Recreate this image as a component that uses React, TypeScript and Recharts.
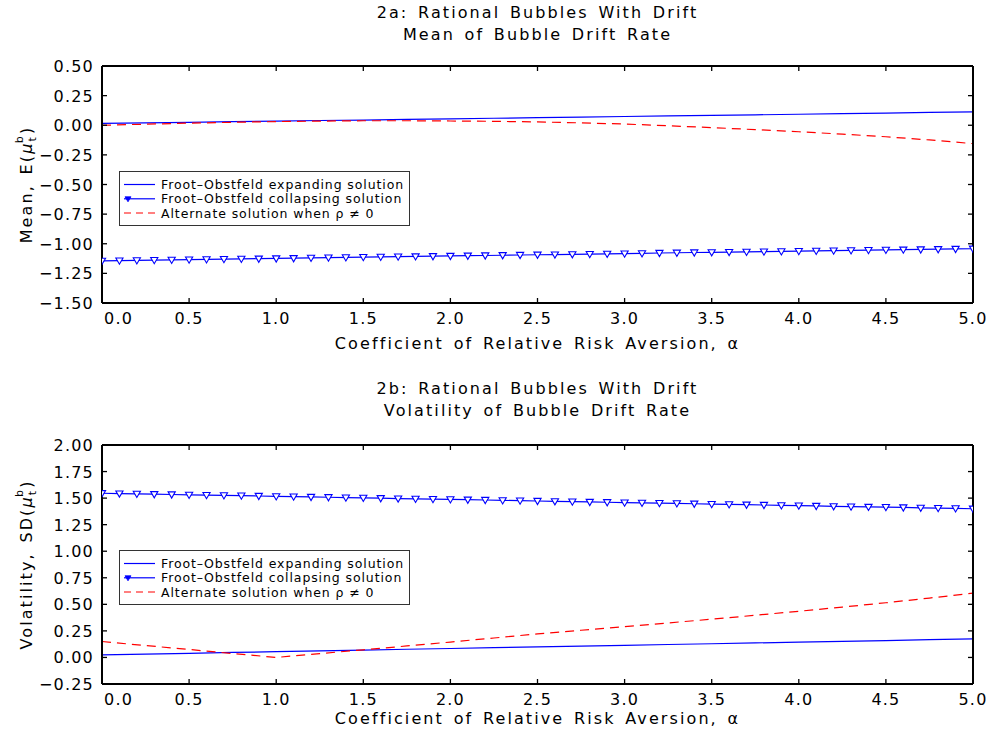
import React from 'react';
import { LineChart, Line, XAxis, YAxis, Legend, Label } from 'recharts';

// ---------- data ----------
const ALPHA = [
  0, 0.1, 0.2, 0.3, 0.4, 0.5, 0.6, 0.7, 0.8, 0.9,
  1.0, 1.1, 1.2, 1.3, 1.4, 1.5, 1.6, 1.7, 1.8, 1.9,
  2.0, 2.1, 2.2, 2.3, 2.4, 2.5, 2.6, 2.7, 2.8, 2.9,
  3.0, 3.1, 3.2, 3.3, 3.4, 3.5, 3.6, 3.7, 3.8, 3.9,
  4.0, 4.1, 4.2, 4.3, 4.4, 4.5, 4.6, 4.7, 4.8, 4.9, 5.0,
];
const ALPHA_COARSE = [
  0, 0.25, 0.5, 0.75, 1.0, 1.25, 1.5, 1.75, 2.0, 2.25, 2.5,
  2.75, 3.0, 3.25, 3.5, 3.75, 4.0, 4.25, 4.5, 4.75, 5.0,
];

// 2a: mean of bubble drift rate
const MEAN_COLLAPSING = [
  -1.144, -1.142, -1.140, -1.138, -1.136, -1.134, -1.132, -1.130, -1.128, -1.126,
  -1.124, -1.122, -1.119, -1.117, -1.115, -1.113, -1.111, -1.109, -1.107, -1.105,
  -1.103, -1.101, -1.099, -1.097, -1.095, -1.093, -1.091, -1.089, -1.087, -1.085,
  -1.083, -1.081, -1.078, -1.076, -1.074, -1.072, -1.070, -1.068, -1.066, -1.064,
  -1.062, -1.060, -1.058, -1.056, -1.054, -1.052, -1.050, -1.048, -1.046, -1.044, -1.042,
];
const MEAN_EXPANDING = [
  0.015, 0.020, 0.025, 0.030, 0.035, 0.040, 0.044, 0.049, 0.054, 0.059, 0.064,
  0.069, 0.074, 0.079, 0.084, 0.088, 0.093, 0.098, 0.103, 0.108, 0.113,
];
const MEAN_ALTERNATE = [
  0.000, 0.009, 0.018, 0.025, 0.031, 0.035, 0.038, 0.038, 0.036, 0.033, 0.028,
  0.020, 0.010, -0.004, -0.020, -0.037, -0.055, -0.075, -0.097, -0.124, -0.155,
];

// 2b: volatility of bubble drift rate
const VOL_COLLAPSING = [
  1.546, 1.543, 1.540, 1.537, 1.534, 1.531, 1.528, 1.526, 1.523, 1.520,
  1.517, 1.514, 1.511, 1.508, 1.505, 1.502, 1.499, 1.496, 1.493, 1.490,
  1.488, 1.485, 1.482, 1.479, 1.476, 1.473, 1.470, 1.467, 1.464, 1.461,
  1.458, 1.455, 1.453, 1.450, 1.447, 1.444, 1.441, 1.438, 1.435, 1.432,
  1.429, 1.426, 1.423, 1.420, 1.417, 1.415, 1.412, 1.409, 1.406, 1.403, 1.400,
];
const VOL_EXPANDING = [
  0.024, 0.032, 0.039, 0.047, 0.054, 0.062, 0.069, 0.077, 0.084, 0.092, 0.099,
  0.107, 0.114, 0.122, 0.129, 0.137, 0.144, 0.152, 0.159, 0.167, 0.174,
];
const VOL_ALTERNATE = [
  0.150, 0.112, 0.075, 0.037, 0.000, 0.036, 0.072, 0.108, 0.145, 0.183, 0.222,
  0.256, 0.290, 0.325, 0.360, 0.397, 0.435, 0.474, 0.515, 0.559, 0.605,
];

const X_TICKS = [0, 0.5, 1.0, 1.5, 2.0, 2.5, 3.0, 3.5, 4.0, 4.5, 5.0];
const MEAN_TICKS = [0.5, 0.25, 0, -0.25, -0.5, -0.75, -1.0, -1.25, -1.5];
const VOL_TICKS = [2.0, 1.75, 1.5, 1.25, 1.0, 0.75, 0.5, 0.25, 0, -0.25];

const LEGEND_LABELS = [
  'Froot\u2013Obstfeld expanding solution',
  'Froot\u2013Obstfeld collapsing solution',
  'Alternate solution when \u03C1 \u2260 0',
];
const X_TITLE = 'Coefficient of Relative Risk Aversion, \u03B1';

// ---------- styling ----------
const FONT = "'DejaVu Sans', 'Liberation Sans', sans-serif";
const BLUE = '#0000ff';
const RED = '#ff0000';
const W = 989;
const H = 370;
const TEXT_LS = 2.1;
const TEXT_WS = 2.5;

const rows = (xs: number[], ys: number[]) => xs.map((a, i) => ({ a, v: ys[i] }));
const fmt = (v: number, d: number) => v.toFixed(d).replace('-', '\u2212');

const XTickBottom = (props: any) => {
  const { x, y, payload } = props;
  const v = payload.value as number;
  const first = v === X_TICKS[0];
  return (
    <g>
      <line x1={x} x2={x} y1={y} y2={y - 5} stroke="#000" strokeWidth={1.3} />
      <text
        x={first ? x + 2 : x}
        y={y + 21}
        textAnchor={first ? 'start' : 'middle'}
        fontFamily={FONT}
        fontSize={16}
        letterSpacing={1.2}
        fill="#000"
      >
        {fmt(v, 1)}
      </text>
    </g>
  );
};

const XTickTop = (props: any) => {
  const { x, y } = props;
  return <line x1={x} x2={x} y1={y} y2={y + 5} stroke="#000" strokeWidth={1.3} />;
};

const YTickLeft = (props: any) => {
  const { x, y, payload } = props;
  const v = payload.value as number;
  return (
    <g>
      <line x1={x} x2={x + 5} y1={y} y2={y} stroke="#000" strokeWidth={1.3} />
      <text
        x={x - 8}
        y={y + 6}
        textAnchor="end"
        fontFamily={FONT}
        fontSize={16}
        letterSpacing={1.2}
        fill="#000"
      >
        {fmt(v, 2)}
      </text>
    </g>
  );
};

const YTickRight = (props: any) => {
  const { x, y } = props;
  return <line x1={x} x2={x - 5} y1={y} y2={y} stroke="#000" strokeWidth={1.3} />;
};

const TriDot = (p: any) => {
  const { cx, cy, index } = p;
  if (cx == null || cy == null) return <g key={index} />;
  return (
    <path
      key={index}
      d={`M${cx - 3.6},${cy - 2.6} L${cx + 3.6},${cy - 2.6} L${cx},${cy + 3.6} Z`}
      fill="#ffffff"
      stroke={BLUE}
      strokeWidth={1.1}
    />
  );
};

const LegendBox = () => {
  const rowsY = [13.5, 27.8, 42];
  return (
    <svg width={292} height={56} style={{ display: 'block', overflow: 'visible' }}>
      <rect x={0.5} y={0.5} width={290} height={54} fill="#ffffff" stroke="#333" strokeWidth={1} />
      <line x1={5} x2={36} y1={rowsY[0]} y2={rowsY[0]} stroke={BLUE} strokeWidth={1.2} />
      <line x1={5} x2={36} y1={rowsY[1]} y2={rowsY[1]} stroke={BLUE} strokeWidth={1.2} />
      <path
        d={`M${6},${rowsY[1] - 2} L${12},${rowsY[1] - 2} L${9},${rowsY[1] + 3} Z`}
        fill={BLUE}
        stroke={BLUE}
        strokeWidth={0.8}
      />
      <line
        x1={5}
        x2={36}
        y1={rowsY[2]}
        y2={rowsY[2]}
        stroke={RED}
        strokeWidth={1.2}
        strokeDasharray="7 5"
      />
      {LEGEND_LABELS.map((t, i) => (
        <text
          key={t}
          x={42}
          y={rowsY[i] + 4.5}
          fontFamily={FONT}
          fontSize={12.5}
          letterSpacing={0.9}
          fill="#000"
        >
          {t}
        </text>
      ))}
    </svg>
  );
};

type PanelProps = {
  collapsing: number[];
  expanding: number[];
  alternate: number[];
  yTicks: number[];
  title1: string;
  title2: string;
  titleY: [number, number];
  yPrefix: string;
  marginTop: number;
  marginBottom: number;
  xTitleOffset: number;
  legendTop: number;
};

const Panel = (p: PanelProps) => {
  const yDomain = [p.yTicks[p.yTicks.length - 1], p.yTicks[0]];
  return (
    <LineChart
      width={W}
      height={H}
      margin={{ top: p.marginTop - 1, right: 15, bottom: p.marginBottom - 1, left: 0 }}
    >
      <XAxis
        dataKey="a"
        type="number"
        domain={[0, 5]}
        ticks={X_TICKS}
        allowDataOverflow
        height={1}
        tickSize={0}
        tickMargin={0}
        tickLine={false}
        interval={0}
        axisLine={{ stroke: '#000', strokeWidth: 2 }}
        tick={<XTickBottom />}
      >
        <Label
          content={(lp: any) => {
            const vb = lp.viewBox || {};
            return (
              <text
                x={vb.x + vb.width / 2}
                y={vb.y + p.xTitleOffset}
                textAnchor="middle"
                fontFamily={FONT}
                fontSize={16}
                letterSpacing={TEXT_LS}
                wordSpacing={TEXT_WS}
                fill="#000"
              >
                {X_TITLE}
              </text>
            );
          }}
        />
      </XAxis>
      <XAxis
        xAxisId="t"
        orientation="top"
        dataKey="a"
        type="number"
        domain={[0, 5]}
        ticks={X_TICKS}
        allowDataOverflow
        height={1}
        tickSize={0}
        tickMargin={0}
        tickLine={false}
        interval={0}
        axisLine={{ stroke: '#000', strokeWidth: 2 }}
        tick={<XTickTop />}
      >
        <Label
          content={(lp: any) => {
            const vb = lp.viewBox || {};
            const cx = vb.x + vb.width / 2;
            return (
              <g>
                <text x={cx} y={p.titleY[0]} textAnchor="middle" fontFamily={FONT} fontSize={16} letterSpacing={TEXT_LS} wordSpacing={TEXT_WS} fill="#000">
                  {p.title1}
                </text>
                <text x={cx} y={p.titleY[1]} textAnchor="middle" fontFamily={FONT} fontSize={16} letterSpacing={TEXT_LS} wordSpacing={TEXT_WS} fill="#000">
                  {p.title2}
                </text>
              </g>
            );
          }}
        />
      </XAxis>
      <YAxis
        type="number"
        domain={yDomain}
        ticks={p.yTicks}
        allowDataOverflow
        width={102}
        tickSize={0}
        tickMargin={0}
        tickLine={false}
        interval={0}
        axisLine={{ stroke: '#000', strokeWidth: 2 }}
        tick={<YTickLeft />}
      >
        <Label
          content={(lp: any) => {
            const vb = lp.viewBox || {};
            const cy = vb.y + vb.height / 2;
            const cx = 26;
            return (
              <text
                transform={`rotate(-90, ${cx}, ${cy})`}
                x={cx}
                y={cy + 6}
                textAnchor="middle"
                fontFamily={FONT}
                fontSize={16}
                letterSpacing={TEXT_LS}
                wordSpacing={TEXT_WS}
                fill="#000"
              >
                {p.yPrefix}(
                <tspan fontStyle="italic">{'\u03BC'}</tspan>
                <tspan fontSize={11} dy={4}>t</tspan>
                <tspan fontSize={11} dx={-8} dy={-13}>b</tspan>
                <tspan dy={9}>)</tspan>
              </text>
            );
          }}
        />
      </YAxis>
      <YAxis
        yAxisId="r"
        orientation="right"
        type="number"
        domain={yDomain}
        ticks={p.yTicks}
        allowDataOverflow
        width={1}
        tickSize={0}
        tickMargin={0}
        tickLine={false}
        interval={0}
        axisLine={{ stroke: '#000', strokeWidth: 2 }}
        tick={<YTickRight />}
      />
      <Legend
        layout="horizontal"
        verticalAlign="top"
        align="left"
        content={() => <LegendBox />}
        wrapperStyle={{
          position: 'absolute',
          left: 119,
          top: p.legendTop,
          width: 0,
          height: 0,
          overflow: 'visible',
        }}
      />
      <Line
        data={rows(ALPHA_COARSE, p.expanding)}
        dataKey="v"
        stroke={BLUE}
        strokeWidth={1.2}
        dot={false}
        activeDot={false}
        isAnimationActive={false}
        legendType="none"
      />
      <Line
        data={rows(ALPHA, p.collapsing)}
        dataKey="v"
        stroke={BLUE}
        strokeWidth={1.2}
        dot={TriDot}
        activeDot={false}
        isAnimationActive={false}
        legendType="none"
      />
      <Line
        data={rows(ALPHA_COARSE, p.alternate)}
        dataKey="v"
        stroke={RED}
        strokeWidth={1.2}
        strokeDasharray="9 6"
        dot={false}
        activeDot={false}
        isAnimationActive={false}
        legendType="none"
      />
    </LineChart>
  );
};

export default function App() {
  return (
    <div
      style={{
        position: 'absolute',
        left: 0,
        top: 0,
        width: W,
        height: 740,
        background: '#ffffff',
        overflow: 'hidden',
      }}
    >
      <div style={{ position: 'absolute', left: 0, top: 0 }}>
        <Panel
          collapsing={MEAN_COLLAPSING}
          expanding={MEAN_EXPANDING}
          alternate={MEAN_ALTERNATE}
          yTicks={MEAN_TICKS}
          title1="2a: Rational Bubbles With Drift"
          title2="Mean of Bubble Drift Rate"
          titleY={[18, 40]}
          yPrefix="Mean,  E"
          marginTop={66}
          marginBottom={67}
          xTitleOffset={46}
          legendTop={171}
        />
      </div>
      <div style={{ position: 'absolute', left: 0, top: 370 }}>
        <Panel
          collapsing={VOL_COLLAPSING}
          expanding={VOL_EXPANDING}
          alternate={VOL_ALTERNATE}
          yTicks={VOL_TICKS}
          title1="2b: Rational Bubbles With Drift"
          title2="Volatility of Bubble Drift Rate"
          titleY={[24, 46]}
          yPrefix="Volatility,  SD"
          marginTop={75}
          marginBottom={56}
          xTitleOffset={40}
          legendTop={180}
        />
      </div>
    </div>
  );
}
